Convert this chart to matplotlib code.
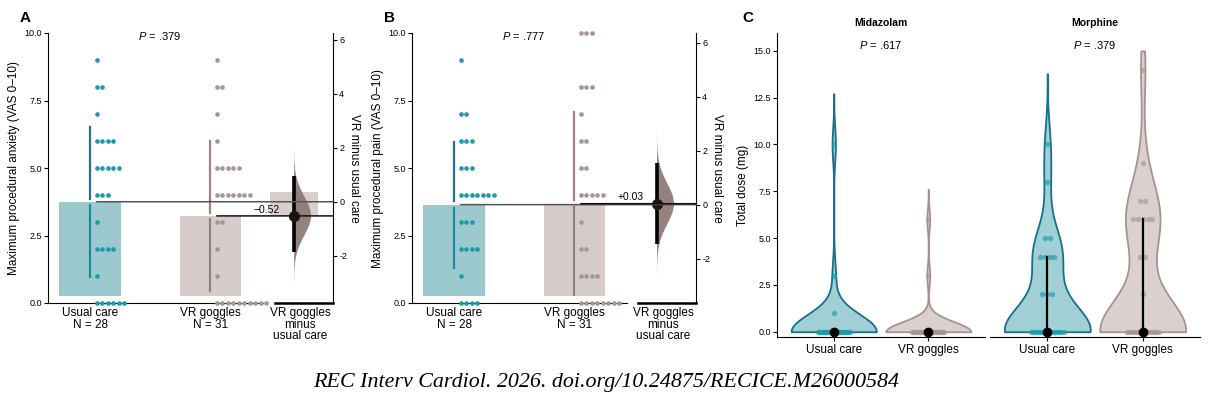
import numpy as np
import matplotlib.pyplot as plt
from matplotlib.patches import ConnectionPatch

plt.rcParams['font.family'] = ['Liberation Sans', 'DejaVu Sans']
plt.rcParams['mathtext.fontset'] = 'custom'
plt.rcParams['mathtext.it'] = 'Liberation Sans:italic'
plt.rcParams['mathtext.rm'] = 'Liberation Sans'
plt.rcParams['axes.unicode_minus'] = False

W, H = 1212, 399

groups = ['Usual care', 'VR goggles']
vas_levels = np.arange(11)

# number of patients per VAS score 0..10
anxiety_usual = [6, 1, 4, 1, 3, 5, 4, 1, 2, 1, 0]
anxiety_vr = [10, 1, 1, 2, 7, 5, 1, 1, 2, 1, 0]
pain_usual = [4, 1, 4, 3, 7, 3, 3, 2, 0, 1, 0]
pain_vr = [8, 4, 2, 1, 5, 2, 2, 1, 3, 0, 3]

# bootstrap 95% CI of mean difference
anxiety_ci = [-1.87, 0.96]
pain_ci = [-1.44, 1.53]
anxiety_shade = [-0.52, 0.37]
p_anxiety = '.379'
p_pain = '.777'

# panel C: total dose (mg) and how many patients got it
drugs = ['Midazolam', 'Morphine']
drug_p = ['.617', '.379']
mida_usual_dose = [0, 1, 3, 10]
mida_usual_cnt = [25, 1, 1, 1]
mida_vr_dose = [0, 3, 6]
mida_vr_cnt = [29, 1, 1]
morph_usual_dose = [0, 2, 4, 5, 8, 10]
morph_usual_cnt = [17, 3, 4, 2, 1, 1]
morph_vr_dose = [0, 2, 4, 6, 7, 9, 14]
morph_vr_cnt = [19, 1, 2, 5, 2, 1, 1]

dot_cols = ['#1c9aa8', '#a69593']
bar_cols = ['#9cc9ce', '#d6ccca']
line_up = ['#2b6d96', '#a3837f']
line_lo = ['#1a8a9e', '#8f817f']
vio_fill = ['#a0d0d5', '#dad1cf']
vio_edge = ['#17708a', '#a8928f']


def px_axes(fig, l, t, r, b):
    return fig.add_axes([l / W, 1 - b / H, (r - l) / W, (b - t) / H])


def gardner_altman(fig, main_box, diff_box, counts, ylabel, ci, p_txt, letter, shade=None):
    ax = px_axes(fig, *main_box)
    dax = px_axes(fig, *diff_box)
    samples = [np.repeat(vas_levels, c) for c in counts]
    means = [s.mean() for s in samples]
    sds = [s.std(ddof=1) for s in samples]

    for i, s in enumerate(samples):
        ax.bar(i, means[i] - 0.25, bottom=0.25, width=0.51, color=bar_cols[i], zorder=1)
        ax.plot([i, i], [means[i] + 0.12, means[i] + sds[i]], color=line_up[i], lw=1.6, zorder=2)
        ax.plot([i, i], [means[i] - sds[i], means[i] - 0.12], color=line_lo[i], lw=1.6, zorder=2)
        for v, c in zip(vas_levels, counts[i]):
            if c == 0:
                continue
            xs = i + 0.055 + 0.046 * np.arange(c)
            ax.scatter(xs, np.full(c, v), s=11, color=dot_cols[i], linewidths=0,
                       clip_on=False, zorder=4)

    ax.set_xlim(-0.35, 1.44)
    ax.set_ylim(0, 10)
    ax.set_yticks([0, 2.5, 5, 7.5, 10])
    ax.set_yticklabels(['%.1f' % t for t in [0, 2.5, 5, 7.5, 10]])
    ax.set_xticks([0, 1])
    ax.set_xticklabels(['%s\nN = %d' % (g, len(s)) for g, s in zip(groups, samples)],
                       fontsize=8.5, linespacing=0.95)
    ax.tick_params(axis='x', length=0, pad=3)
    ax.tick_params(axis='y', length=3, labelsize=6.5, pad=1.5)
    ax.spines[['top', 'right']].set_visible(False)
    ax.set_ylabel(ylabel, fontsize=8.5, labelpad=3)
    ax.text(0.58, 9.88, '$P$ = ' + p_txt, ha='center', va='center', fontsize=8)

    # difference axis, zero lined up with the usual-care mean
    d = means[1] - means[0]
    se = np.sqrt(sds[0] ** 2 / len(samples[0]) + sds[1] ** 2 / len(samples[1]))
    dax.set_xlim(0, 1)
    dax.set_ylim(-means[0], 10 - means[0])
    if shade is not None:
        dax.bar(0.33, shade[1] - shade[0], bottom=shade[0], width=0.83, color='#d8cfcd',
                zorder=0, clip_on=False)
    coords = np.linspace(d - 4.2 * se, d + 4.2 * se, 300)
    vals = np.exp(-0.5 * ((coords - d) / se) ** 2)
    st = dict(coords=coords, vals=vals, mean=d, median=d, min=coords[0], max=coords[-1])
    parts = dax.violin([st], positions=[0.33], widths=0.58, showextrema=False, side='high')
    for b in parts['bodies']:
        b.set_facecolor('#8a7471')
        b.set_edgecolor('none')
        b.set_alpha(0.9)
    dax.plot([0.33, 0.33], ci, color='black', lw=2.6, zorder=3, solid_capstyle='butt')
    dax.plot(0.33, d, 'o', color='#1e1414', ms=7, zorder=4)
    lab = ('%+.2f' % d).replace('-', '\u2212')
    dax.text(0.09, d + 0.05, lab, ha='right', va='bottom', fontsize=7.5, zorder=5)

    dax.spines[['top', 'left']].set_visible(False)
    dax.spines['bottom'].set_linewidth(1.8)
    dax.yaxis.tick_right()
    dax.yaxis.set_label_position('right')
    dax.set_yticks([-2, 0, 2, 4, 6])
    dax.tick_params(axis='y', length=3, labelsize=6.5, pad=1.5)
    dax.set_xticks([0.43])
    dax.set_xticklabels(['VR goggles\nminus\nusual care'], fontsize=8.5, linespacing=0.95)
    dax.tick_params(axis='x', length=0, pad=3)
    dax.set_ylabel('VR minus usual care', rotation=270, fontsize=8.5, labelpad=9)

    lc = ['#555555', '#111111']
    targets = [0, d]
    for i in range(2):
        con = ConnectionPatch(xyA=(i + 0.055, means[i]), coordsA=ax.transData,
                              xyB=(1, targets[i]), coordsB=dax.get_yaxis_transform(),
                              color=lc[i], lw=1.1, zorder=5)
        fig.add_artist(con)

    fig.text(main_box[0] - 28, H - 18, letter, fontsize=11, fontweight='bold',
             transform=None, ha='left', va='center')
    return ax, dax


def nrd0(x):
    sd = x.std(ddof=1)
    q75, q25 = np.percentile(x, [75, 25])
    lo = min(sd, (q75 - q25) / 1.34)
    if lo == 0:
        lo = sd
    return 0.9 * lo * len(x) ** -0.2


def dose_facet(ax, doses, cnts, title, p_txt, first):
    for i in range(2):
        data = np.repeat(doses[i], cnts[i]).astype(float)
        pos = i + 1
        bw = nrd0(data)
        lo = max(0, data.min() - 3 * bw)
        hi = min(15, data.max() + 3 * bw)
        coords = np.linspace(lo, hi, 400)
        vals = np.exp(-0.5 * ((coords[:, None] - data[None, :]) / bw) ** 2).sum(axis=1)
        st = dict(coords=coords, vals=vals, mean=data.mean(), median=np.median(data),
                  min=lo, max=hi)
        parts = ax.violin([st], positions=[pos], widths=0.9, showextrema=False)
        for b in parts['bodies']:
            b.set_facecolor(vio_fill[i])
            b.set_edgecolor(vio_edge[i])
            b.set_linewidth(1.3)
            b.set_alpha(1)
        for v, c in zip(doses[i], cnts[i]):
            half = min(0.17, 0.025 * (c - 1))
            xs = pos + np.linspace(-half, half, c)
            ax.scatter(xs, np.full(c, v), s=15, color=dot_cols[i], alpha=0.65,
                       linewidths=0, clip_on=False, zorder=3)
        q1, q3 = np.percentile(data, [25, 75])
        ax.plot([pos, pos], [q1, q3], color='black', lw=1.6, zorder=4)
        ax.plot(pos, np.median(data), 'o', color='black', ms=6, clip_on=False, zorder=5)

    ax.set_xlim(0.4, 2.6)
    ax.set_ylim(-0.28, 15.95)
    ax.set_xticks([1, 2])
    ax.set_xticklabels(groups, fontsize=8.5)
    ax.tick_params(axis='x', length=3, pad=2)
    ax.spines[['top', 'right']].set_visible(False)
    ax.set_title(title, fontsize=7.5, fontweight='bold', pad=5)
    ax.text(1.5, 15.3, '$P$ = ' + p_txt, ha='center', va='center', fontsize=8)
    if first:
        ticks = [0, 2.5, 5, 7.5, 10, 12.5, 15]
        ax.set_yticks(ticks)
        ax.set_yticklabels(['%.1f' % t for t in ticks])
        ax.tick_params(axis='y', length=3, labelsize=6.5, pad=1.5)
        ax.set_ylabel('Total dose (mg)', fontsize=8.5, labelpad=3)
    else:
        ax.spines['left'].set_visible(False)
        ax.set_yticks([])


fig = plt.figure(figsize=(W / 100, H / 100), dpi=100)

gardner_altman(fig, (48, 33, 263, 303), (275, 33, 333, 303), [anxiety_usual, anxiety_vr],
               'Maximum procedural anxiety (VAS 0\u201310)', anxiety_ci, p_anxiety, 'A',
               shade=anxiety_shade)
gardner_altman(fig, (412, 33, 627, 303), (638, 33, 696, 303), [pain_usual, pain_vr],
               'Maximum procedural pain (VAS 0\u201310)', pain_ci, p_pain, 'B')

c1 = px_axes(fig, 777, 33, 985, 337)
c2 = px_axes(fig, 990, 33, 1200, 337)
dose_facet(c1, [mida_usual_dose, mida_vr_dose], [mida_usual_cnt, mida_vr_cnt],
           drugs[0], drug_p[0], True)
dose_facet(c2, [morph_usual_dose, morph_vr_dose], [morph_usual_cnt, morph_vr_cnt],
           drugs[1], drug_p[1], False)
fig.text(742, H - 18, 'C', fontsize=11, fontweight='bold', transform=None, ha='left', va='center')

fig.text(0.5, 1 - 382 / H, 'REC Interv Cardiol. 2026. doi.org/10.24875/RECICE.M26000584',
         family='Liberation Serif', style='italic', fontsize=15.8, ha='center', va='center')

fig.savefig('out.png', dpi=100, facecolor='white')
